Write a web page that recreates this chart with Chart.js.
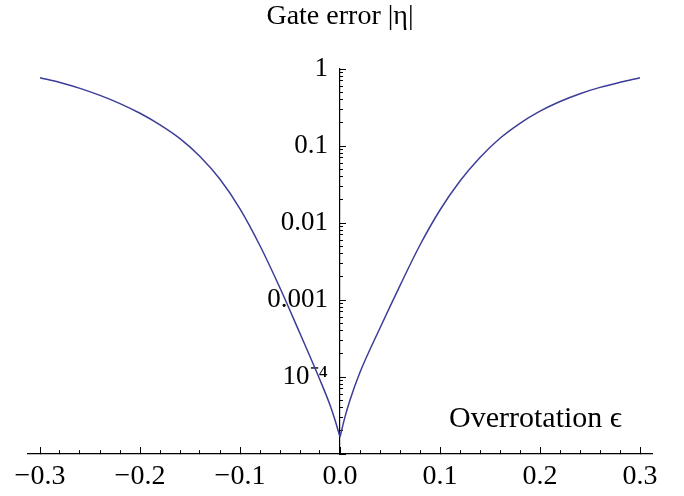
<!DOCTYPE html>
<html><head><meta charset="utf-8">
<script src="https://cdn.jsdelivr.net/npm/chart.js@4.4.0/dist/chart.umd.min.js"></script>
<style>html,body{margin:0;padding:0;background:#fff}#wrap{width:684px;height:496px}</style>
</head><body><div id="wrap"><canvas id="c" width="684" height="496"></canvas></div>
<script>
// Overrotation epsilon (x) and gate error |eta| (y)
const leftX   = [-0.30, -0.28, -0.26, -0.24, -0.22, -0.20, -0.18, -0.16, -0.14, -0.12, -0.10, -0.08, -0.06, -0.04, -0.02, -0.01, -0.005, 0];
const leftErr = [0.771, 0.668, 0.560, 0.454, 0.3554, 0.266, 0.1885, 0.1248, 0.0731, 0.0370, 0.01528, 0.00507, 0.001432, 0.000367, 0.0000914, 0.0000433, 0.0000277, 0.0000166];
const rightX   = [0, 0.005, 0.01, 0.02, 0.04, 0.06, 0.08, 0.10, 0.12, 0.14, 0.16, 0.18, 0.20, 0.22, 0.24, 0.26, 0.28, 0.30];
const rightErr = [0.0000166, 0.0000303, 0.0000502, 0.000115, 0.000433, 0.00154, 0.00518, 0.01476, 0.0351, 0.0709, 0.1259, 0.197, 0.283, 0.3784, 0.4778, 0.5768, 0.672, 0.771];

const xMajorTicks = [-0.3, -0.2, -0.1, 0, 0.1, 0.2, 0.3];
const xTickLabels = ['\u22120.3', '\u22120.2', '\u22120.1', '0.0', '0.1', '0.2', '0.3'];
const xMinorTicks = [-0.28,-0.26,-0.24,-0.22,-0.18,-0.16,-0.14,-0.12,-0.08,-0.06,-0.04,-0.02,0.02,0.04,0.06,0.08,0.12,0.14,0.16,0.18,0.22,0.24,0.26,0.28];
const yMajorTicks = [1e-5, 1e-4, 1e-3, 1e-2, 1e-1, 1];
const yTickLabels = ['', '10\u207B\u2074', '0.001', '0.01', '0.1', '1'];
const yMinorMultipliers = [2, 3, 4, 5, 6, 7, 8, 9];

const xTitle = 'Overrotation \u03F5';
const yTitle = 'Gate error |\u03B7|';

const near = (a, b) => Math.abs(a - b) <= 1e-9 + 1e-6 * Math.abs(b);
const xTickValues = xMajorTicks.concat(xMinorTicks).sort((a, b) => a - b);
const yTickValues = [];
yMajorTicks.forEach((m, i) => {
  yTickValues.push(m);
  if (i < yMajorTicks.length - 1) yMinorMultipliers.forEach(k => yTickValues.push(+(m * k).toPrecision(6)));
});

const serif = 'Liberation Serif, Times New Roman, serif';
const lineColor = '#3d3d99';

new Chart(document.getElementById('c'), {
  type: 'line',
  data: {
    datasets: [
      { data: leftX.map((x, i) => ({x, y: leftErr[i]})), borderColor: lineColor, borderWidth: 1.5, pointRadius: 0, cubicInterpolationMode: 'monotone', fill: false },
      { data: rightX.map((x, i) => ({x, y: rightErr[i]})), borderColor: lineColor, borderWidth: 1.5, pointRadius: 0, cubicInterpolationMode: 'monotone', fill: false }
    ]
  },
  options: {
    responsive: false,
    animation: false,
    devicePixelRatio: 1,
    layout: { padding: { left: 28, right: 32, top: 0, bottom: 0 } },
    plugins: {
      legend: { display: false },
      tooltip: { enabled: false },
      title: {
        display: true, text: yTitle, color: '#000', fullSize: false,
        font: { family: serif, size: 28, weight: 'normal' },
        padding: { top: 0, bottom: 35.4 }
      }
    },
    scales: {
      x: {
        type: 'linear', position: 'bottom', min: -0.312, max: 0.312,
        afterBuildTicks: s => { s.ticks = xTickValues.map(v => ({ value: v })); },
        afterFit: s => { s.height = 42; },
        border: { display: true, color: '#000', width: 1.2 },
        grid: {
          drawOnChartArea: false, drawTicks: true, tickLength: -7, tickColor: '#000', tickWidth: 1,
          tickBorderDash: ctx => (ctx.tick && xMajorTicks.some(m => near(ctx.tick.value, m))) ? [] : [4, 40]
        },
        ticks: {
          autoSkip: false, maxRotation: 0, padding: 13, color: '#000',
          font: { family: serif, size: 28 },
          callback: v => { const i = xMajorTicks.findIndex(m => near(v, m)); return i >= 0 ? xTickLabels[i] : ''; }
        },
        title: {
          display: true, text: xTitle + '    ', align: 'end', color: '#000',
          font: { family: serif, size: 30 },
          padding: { top: 0, bottom: 59 }
        }
      },
      y: {
        type: 'logarithmic', position: 'center', min: 1e-5, max: 1,
        afterBuildTicks: s => { s.ticks = yTickValues.map(v => ({ value: v })); },
        afterFit: s => { s.width = 0; },
        border: { display: true, color: '#000', width: 1.2 },
        grid: {
          drawOnChartArea: false, drawTicks: true, tickLength: -7, tickColor: '#000', tickWidth: 1,
          tickBorderDash: ctx => (ctx.tick && yMajorTicks.some(m => near(ctx.tick.value, m))) ? [] : [4, 40]
        },
        ticks: {
          autoSkip: false, padding: 19, color: '#000',
          font: { family: serif, size: 27 },
          callback: v => { const i = yMajorTicks.findIndex(m => near(v, m)); return i >= 0 ? yTickLabels[i] : ''; }
        }
      }
    }
  }
});
</script></body></html>
